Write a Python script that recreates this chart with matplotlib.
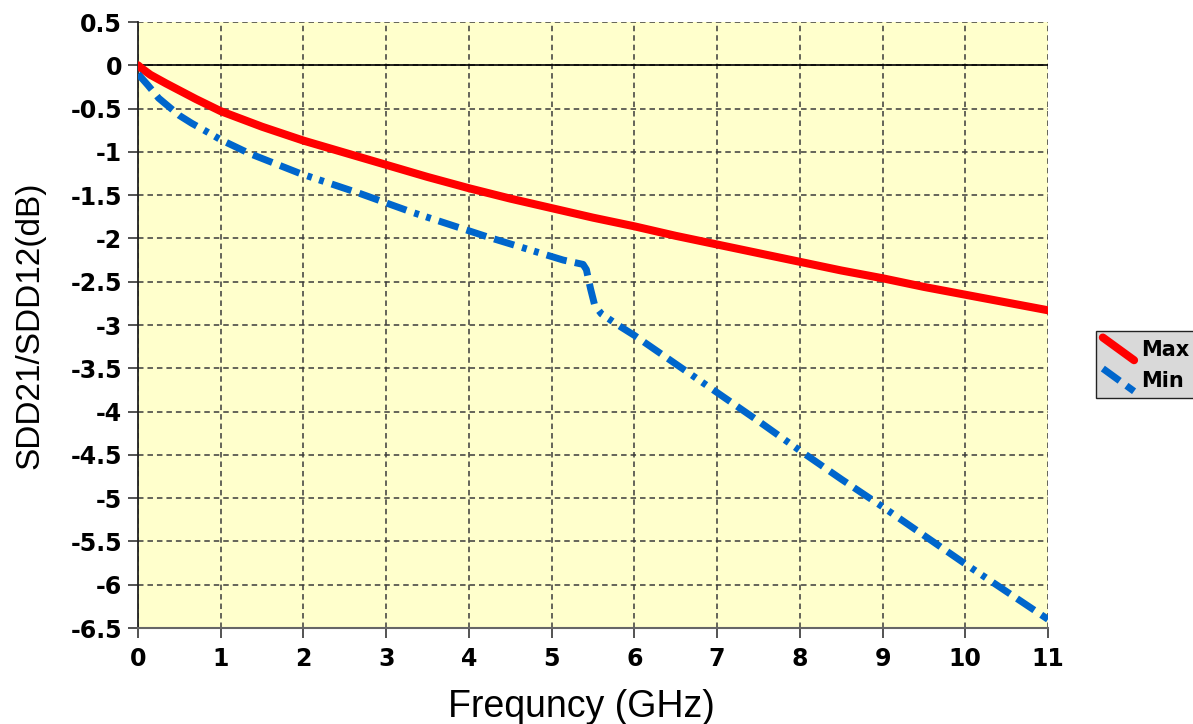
import matplotlib
matplotlib.use("Agg")
import matplotlib.pyplot as plt
from matplotlib.lines import Line2D
from matplotlib.legend_handler import HandlerLine2D

plt.rcParams['font.family'] = ['Liberation Sans', 'DejaVu Sans']

max_x = [0, 0.05, 0.15, 0.34, 0.5, 0.7, 1, 1.25, 1.5, 2, 2.5, 3, 3.5, 4, 4.5, 5, 5.5, 6, 6.5, 7, 7.5, 8, 8.5, 9, 9.5, 10, 10.5, 11]
max_y = [0.0, -0.04, -0.11, -0.21, -0.29, -0.39, -0.53, -0.62, -0.71, -0.87, -1.01, -1.15, -1.29, -1.42, -1.54, -1.65, -1.76, -1.86, -1.97, -2.07, -2.17, -2.27, -2.37, -2.46, -2.56, -2.65, -2.74, -2.83]

min_x = [0, 0.12, 0.25, 0.5, 0.65, 0.8, 1, 1.35, 1.96, 2.68, 3.32, 4.25, 5.14, 5.38, 5.42, 5.47, 5.52, 5.6, 5.8, 6, 6.5, 7, 7.5, 8, 8.5, 9, 9.5, 10, 10.5, 11]
min_y = [-0.1, -0.23, -0.38, -0.58, -0.67, -0.75, -0.86, -1.02, -1.25, -1.48, -1.70, -1.99, -2.25, -2.30, -2.36, -2.58, -2.77, -2.87, -3.0, -3.12, -3.45, -3.78, -4.11, -4.45, -4.78, -5.1, -5.43, -5.76, -6.08, -6.4]

xticks = list(range(0, 12))
yticks = [0.5, 0, -0.5, -1, -1.5, -2, -2.5, -3, -3.5, -4, -4.5, -5, -5.5, -6, -6.5]


class DiagHandler(HandlerLine2D):
    def create_artists(self, legend, orig_handle, xdescent, ydescent,
                       width, height, fontsize, trans):
        x0, x1 = -xdescent, -xdescent + width
        y0, y1 = -ydescent, -ydescent + height
        line = Line2D([x0, x1], [y1, y0])
        self.update_prop(line, orig_handle, legend)
        line.set_transform(trans)
        return [line]


fig = plt.figure(figsize=(11.93, 7.24), dpi=100)
ax = fig.add_axes([138/1193, 1 - 628/724, (1048-138)/1193, (628-22)/724])
ax.set_facecolor('#ffffcc')

ax.plot(max_x, max_y, color='#ff0000', lw=5.8, solid_capstyle='round', solid_joinstyle='round',
        label='Max', zorder=3)
ax.plot(min_x, min_y, color='#0066cc', lw=5.0,
        dashes=(3.0, 1.2, 3.0, 1.2, 3.0, 1.2, 0.7, 1.1, 0.7, 1.2), label='Min', zorder=3)

ax.axhline(0, color='black', lw=1.2, zorder=2)
ax.set_xlim(0, 11)
ax.set_ylim(-6.5, 0.5)
ax.set_xticks(xticks)
ax.set_yticks(yticks)
ax.set_xticklabels([str(v) for v in xticks])
ax.set_yticklabels([('%g' % v) for v in yticks])
ax.grid(True, color='#3a3a3a', ls=(0, (3.6, 2.6)), lw=1.1)
ax.tick_params(axis='both', labelsize=17, length=7.5, width=1.3, color='#444444', direction='out')
ax.tick_params(axis='x', pad=6)
ax.tick_params(axis='y', pad=4)
for lbl in ax.get_xticklabels() + ax.get_yticklabels():
    lbl.set_fontweight('bold')
    lbl.set_family('DejaVu Sans')
ax.spines['top'].set_visible(False)
ax.spines['right'].set_visible(False)
ax.spines['left'].set_color('#222222')
ax.spines['left'].set_linewidth(1.3)
ax.spines['bottom'].set_color('#666666')
ax.spines['bottom'].set_linewidth(1.5)

ax.set_xlabel('Frequncy (GHz)', fontsize=27, labelpad=12)
ax.xaxis.set_label_coords((581 - 138) / 910, -0.1)
ax.set_ylabel('SDD21/SDD12(dB)', fontsize=24, labelpad=18)

leg = ax.legend(loc='center left', bbox_to_anchor=(1.0527, 0.435), borderaxespad=0,
                prop={'family': 'DejaVu Sans', 'weight': 'bold', 'size': 15},
                frameon=True, fancybox=False, handlelength=1.5, handleheight=1.3,
                handletextpad=0.33, borderpad=0.33, labelspacing=0.4,
                handler_map={Line2D: DiagHandler()})
leg.get_frame().set_facecolor('#d9d9d9')
leg.get_frame().set_edgecolor('#222222')
leg.get_frame().set_linewidth(1)
leg.get_frame().set_alpha(1)

fig.savefig('out.png', dpi=100)
